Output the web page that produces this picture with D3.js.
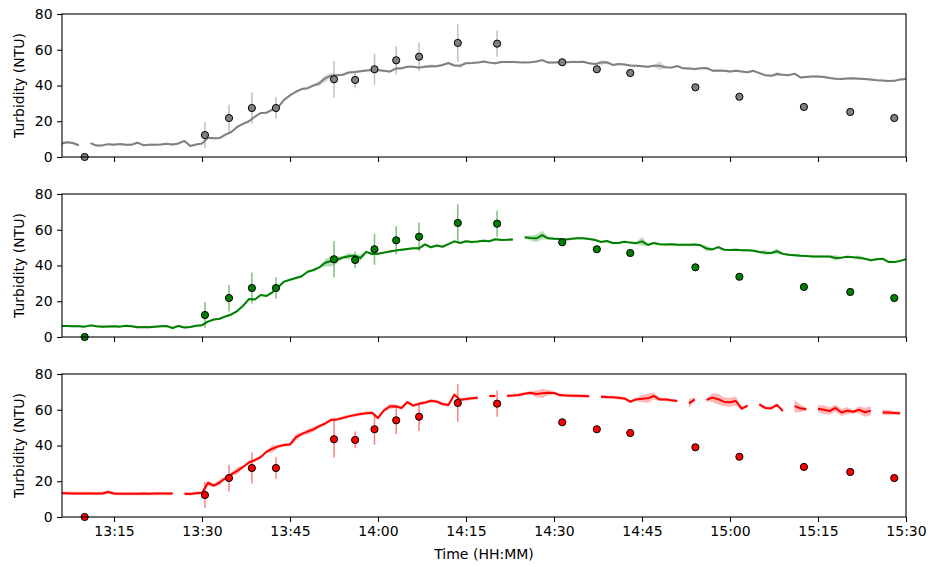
<!DOCTYPE html>
<html>
<head>
<meta charset="utf-8">
<script src="https://cdn.jsdelivr.net/npm/d3@7"></script>
<style>
  body { margin: 0; background: #fff; }
  svg { display: block; font-family: "DejaVu Sans", sans-serif; }
</style>
</head>
<body>
<div id="container"></div>
<script>
// sensor readings, one per minute starting at 13:06 (null = no reading)
const sensorStart = "13:06"

const grayTurbidity = [
  7.5, 8.3, 7.8, 6.6, null, 7.8, 6.4, 6.5, 7.2, 6.9,
  7.3, 6.8, 6.9, 8.0, 6.6, 6.8, 6.9, 7.0, 7.4, 7.0,
  7.6, 9.0, 6.2, 7.0, 7.5, 10.8, 10.5, 10.6, 12.5, 14.0,
  16.8, 18.5, 20.0, 22.5, 24.6, 24.8, 26.5, 28.0, 32.0, 34.5,
  36.5, 38.0, 38.5, 40.0, 41.2, 44.0, 45.5, 45.8, 46.0, 47.3,
  47.6, 48.0, 48.4, 48.7, 48.6, 48.2, 47.8, 49.5, 49.6, 50.5,
  50.5, 50.0, 50.5, 50.8, 50.8, 51.5, 52.6, 51.2, 51.0, 52.5,
  52.6, 52.8, 53.4, 52.8, 52.4, 53.1, 53.1, 53.2, 53.0, 52.9,
  53.0, 53.4, 54.2, 52.8, 52.9, 53.0, 53.0, 53.2, 53.1, 53.3,
  52.4, 52.0, 52.8, 53.0, 51.5, 52.0, 51.8, 51.2, 51.0, 50.8,
  50.5, 51.0, 51.0, 50.2, 50.0, 50.9, 49.6, 49.5, 49.2, 49.6,
  49.8, 48.3, 48.4, 48.3, 47.8, 48.3, 47.8, 47.4, 48.2, 46.9,
  45.8, 45.4, 46.4, 46.0, 45.8, 46.6, 44.5, 44.8, 45.1, 45.0,
  44.8, 44.2, 43.8, 43.7, 43.9, 44.0, 43.8, 43.6, 43.3, 43.0,
  42.8, 42.5, 42.6, 43.3, 43.7
]

const greenTurbidity = [
  6.2, 6.2, 6.0, 6.0, 5.8, 6.5, 6.0, 5.8, 5.9, 6.0,
  5.8, 6.3, 6.0, 5.5, 5.6, 5.5, 5.8, 6.0, 6.1, 5.0,
  6.2, 5.3, 5.6, 6.3, 6.6, 8.6, 9.8, 10.2, 11.5, 12.6,
  14.5, 17.5, 21.2, 21.0, 23.5, 23.0, 25.0, 28.0, 31.0, 32.0,
  33.0, 34.0, 36.5, 37.5, 39.0, 41.5, 42.5, 43.2, 44.5, 45.2,
  45.6, 44.2, 47.6, 46.4, 46.6, 47.2, 47.8, 48.4, 48.8, 49.2,
  49.6, 49.6, 51.8, 50.2, 51.2, 50.5, 52.0, 53.5, 52.6, 53.6,
  53.1, 53.4, 53.9, 53.6, 54.7, 54.3, 54.4, 54.6, null, 55.8,
  55.4, 55.2, 57.0, 55.2, 55.0, 54.8, 54.6, 54.9, 55.2, 55.2,
  54.8, 54.3, 53.2, 53.7, 52.6, 52.6, 53.3, 52.8, 52.5, 53.5,
  51.5, 52.6, 51.9, 51.8, 51.9, 51.6, 51.6, 51.6, 51.7, 51.3,
  49.5, 49.0, 50.3, 48.8, 48.7, 48.8, 48.6, 48.5, 48.3, 47.6,
  47.2, 47.0, 48.0, 46.5, 46.0, 45.8, 45.5, 45.3, 45.1, 45.0,
  45.0, 45.0, 44.2, 44.4, 44.9, 44.6, 44.4, 43.8, 42.9, 43.5,
  43.8, 42.0, 41.9, 42.6, 43.5
]

const redTurbidity = [
  13.3, 13.3, 13.2, 13.2, 13.2, 13.2, 13.1, 13.2, 14.0, 13.1,
  13.0, 13.0, 13.0, 13.0, 13.1, 13.0, 13.1, 13.1, 13.1, 13.1,
  null, 13.0, 12.9, 13.3, 13.5, 19.0, 17.6, 19.3, 21.8, 23.8,
  25.8, 28.0, 30.5, 31.8, 33.5, 36.5, 38.2, 39.5, 40.3, 40.6,
  44.5, 46.5, 47.8, 49.0, 50.8, 52.3, 54.3, 54.6, 55.4, 56.3,
  57.0, 57.6, 58.1, 58.3, 55.4, 59.6, 61.8, 62.0, 61.0, 64.3,
  62.3, 63.3, 64.0, 65.0, 64.6, 63.2, 62.6, 68.4, 65.6, 66.0,
  66.4, 66.7, null, 67.7, 67.7, null, 67.8, 68.0, 68.3, 69.0,
  69.5, 68.8, 69.2, 69.5, 69.4, 68.2, 68.0, 67.9, 67.8, 67.7,
  67.6, null, 67.3, 67.1, 67.0, 66.7, 66.3, 64.5, 65.8, 66.2,
  66.4, 67.7, 65.8, 65.8, 65.3, 64.9, null, 63.6, 65.8, null,
  65.5, 66.8, 65.9, 64.4, 64.2, 64.9, 60.6, 62.3, null, 63.0,
  61.0, 60.8, 62.7, 59.3, null, 62.0, 60.8, 60.3, null, 60.6,
  60.0, 59.3, 61.0, 58.5, 59.5, 58.9, 60.0, 58.6, 59.4, null,
  58.5, 58.4, 58.2, 58.0, null
]

// half width of the shaded min/max band: default plus the wider spots
const grayBandDefault = 0.6
const grayBandWide = [["13:50", 1.5], ["13:51", 2.0], ["13:52", 1.5], ["14:09", 1.0], ["14:14", 1.2],
  ["14:38", 1.5], ["14:48", 2.5], ["15:08", 1.2]]
const greenBandDefault = 0.6
const greenBandWide = [["13:51", 2.0], ["13:52", 3.0], ["13:53", 2.0], ["13:55", 2.0], ["13:57", 2.0],
  ["14:26", 1.5], ["14:27", 2.0], ["14:28", 2.5], ["14:45", 2.5], ["14:56", 1.5], ["15:06", 1.5],
  ["15:08", 1.5], ["15:18", 1.5], ["15:22", 1.2]]
const redBandDefault = 0.9
const redBandWide = [["13:31", 1.5], ["13:33", 1.5], ["13:36", 2.0], ["13:42", 2.0], ["13:46", 2.0],
  ["13:48", 1.5], ["13:49", 1.5], ["14:02", 1.5], ["14:27", 2.0], ["14:28", 2.5], ["14:29", 1.5],
  ["14:45", 2.0], ["14:46", 2.5], ["14:47", 2.0], ["14:53", 2.5], ["14:57", 2.5], ["14:58", 3.0],
  ["14:59", 2.5], ["15:00", 2.5], ["15:01", 2.5], ["15:11", 3.5], ["15:12", 2.0], ["15:15", 2.0],
  ["15:16", 2.5], ["15:17", 2.0], ["15:18", 2.0], ["15:19", 2.0], ["15:20", 2.0], ["15:22", 2.0],
  ["15:23", 2.5], ["15:24", 2.5], ["15:26", 1.5], ["15:27", 1.5]]

// grab samples (same in every panel)
const labTimes = ["13:10:00", "13:30:30", "13:34:36", "13:38:30", "13:42:36", "13:52:30", "13:56:06",
  "13:59:24", "14:03:06", "14:07:00", "14:13:36", "14:20:18", "14:31:24", "14:37:18", "14:43:00",
  "14:54:06", "15:01:36", "15:12:36", "15:20:30", "15:28:00"]
const labTurbidity = [0, 12.3, 21.8, 27.4, 27.4, 43.5, 43.1, 49.1, 54.1, 56.1, 63.8, 63.4,
  53.0, 49.1, 47.0, 39.0, 33.7, 28.0, 25.2, 21.8]
const labSd = [0, 7.3, 7.5, 8.7, 6.0, 10.2, 4.7, 8.7, 7.8, 8.0, 10.5, 7.3,
  0, 0, 0, 0, 0, 0, 0, 0]

const yTicks = [0, 20, 40, 60, 80]
const xStart = "13:06:08"
const xEnd = "15:30:00"
const yLabel = "Turbidity (NTU)"
const xLabel = "Time (HH:MM)"

const width = 930
const height = 567
const plotLeft = 62
const plotRight = 906
const panelTops = [14, 194, 374]
const panelH = 143
const tickLen = 4.9
const fontSize = "14px"

const parseHM = d3.timeParse("%H:%M")
const parseHMS = d3.timeParse("%H:%M:%S")

const x = d3.scaleTime()
  .domain([parseHMS(xStart), parseHMS(xEnd)])
  .range([plotLeft, plotRight])

const t0 = parseHM(sensorStart)
const toRows = (vals, bandDefault, bandWide) => {
  const wide = new Map(bandWide.map(d => [+parseHM(d[0]), d[1]]))
  return vals.map((v, i) => {
    const t = d3.timeMinute.offset(t0, i)
    return {t: t, v: v, s: wide.has(+t) ? wide.get(+t) : bandDefault}
  })
}

const panels = [
  {rows: toRows(grayTurbidity, grayBandDefault, grayBandWide), color: "#808080"},
  {rows: toRows(greenTurbidity, greenBandDefault, greenBandWide), color: "#008000"},
  {rows: toRows(redTurbidity, redBandDefault, redBandWide), color: "#ff0000"}
]

const lab = labTimes.map((t, i) => ({t: parseHMS(t), v: labTurbidity[i], sd: labSd[i]}))

const svg = d3.create("svg")
  .attr("width", width)
  .attr("height", height)

svg.append("rect").attr("width", width).attr("height", height).attr("fill", "#fff")

panels.forEach((p, k) => {
  const top = panelTops[k]
  const y = d3.scaleLinear().domain([0, 80]).range([top + panelH, top])
  const g = svg.append("g")

  const clipId = "clip" + k
  g.append("clipPath").attr("id", clipId)
    .append("rect")
    .attr("x", plotLeft).attr("y", top)
    .attr("width", plotRight - plotLeft).attr("height", panelH)

  const inner = g.append("g").attr("clip-path", `url(#${clipId})`)

  const band = d3.area()
    .defined(d => d.v != null)
    .x(d => x(d.t))
    .y0(d => y(d.v - d.s))
    .y1(d => y(d.v + d.s))

  const line = d3.line()
    .defined(d => d.v != null)
    .x(d => x(d.t))
    .y(d => y(d.v))

  inner.append("path")
    .attr("d", band(p.rows))
    .attr("fill", p.color)
    .attr("fill-opacity", 0.28)

  inner.append("path")
    .attr("d", line(p.rows))
    .attr("fill", "none")
    .attr("stroke", p.color)
    .attr("stroke-width", 2)
    .attr("stroke-linejoin", "round")

  // error bars then markers
  inner.selectAll(".err")
    .data(lab.filter(d => d.sd > 0))
    .enter()
    .append("line")
    .attr("x1", d => x(d.t)).attr("x2", d => x(d.t))
    .attr("y1", d => y(d.v - d.sd)).attr("y2", d => y(d.v + d.sd))
    .attr("stroke", p.color)
    .attr("stroke-opacity", 0.5)
    .attr("stroke-width", 1.5)

  g.selectAll(".pt")
    .data(lab)
    .enter()
    .append("circle")
    .attr("cx", d => x(d.t))
    .attr("cy", d => y(d.v))
    .attr("r", 3.6)
    .attr("fill", p.color)
    .attr("stroke", "#000")
    .attr("stroke-width", 1)

  // frame
  g.append("rect")
    .attr("x", plotLeft).attr("y", top)
    .attr("width", plotRight - plotLeft).attr("height", panelH)
    .attr("fill", "none")
    .attr("stroke", "#000")
    .attr("stroke-width", 1.1)

  const yAxis = g.append("g")
    .attr("transform", `translate(${plotLeft},0)`)
    .call(d3.axisLeft(y).tickValues(yTicks).tickSize(tickLen).tickPadding(4.5))
  yAxis.select(".domain").remove()

  const xAxis = g.append("g")
    .attr("transform", `translate(0,${top + panelH})`)
    .call(d3.axisBottom(x)
      .ticks(d3.timeMinute.every(15))
      .tickSize(tickLen)
      .tickPadding(4.5)
      .tickFormat(k === 2 ? d3.timeFormat("%H:%M") : () => ""))
  xAxis.select(".domain").remove()

  g.selectAll(".tick line").attr("stroke", "#000").attr("stroke-width", 1.1)
  g.selectAll(".tick text")
    .attr("fill", "#000")
    .attr("font-size", fontSize)
    .attr("font-family", "DejaVu Sans, sans-serif")

  g.append("text")
    .attr("transform", `translate(19,${top + panelH / 2}) rotate(-90)`)
    .attr("text-anchor", "middle")
    .attr("dominant-baseline", "central")
    .attr("font-size", fontSize)
    .text(yLabel)
})

svg.append("text")
  .attr("x", (plotLeft + plotRight) / 2)
  .attr("y", 558.5)
  .attr("text-anchor", "middle")
  .attr("font-size", fontSize)
  .text(xLabel)

document.querySelector("#container").appendChild(svg.node())
</script>
</body>
</html>
